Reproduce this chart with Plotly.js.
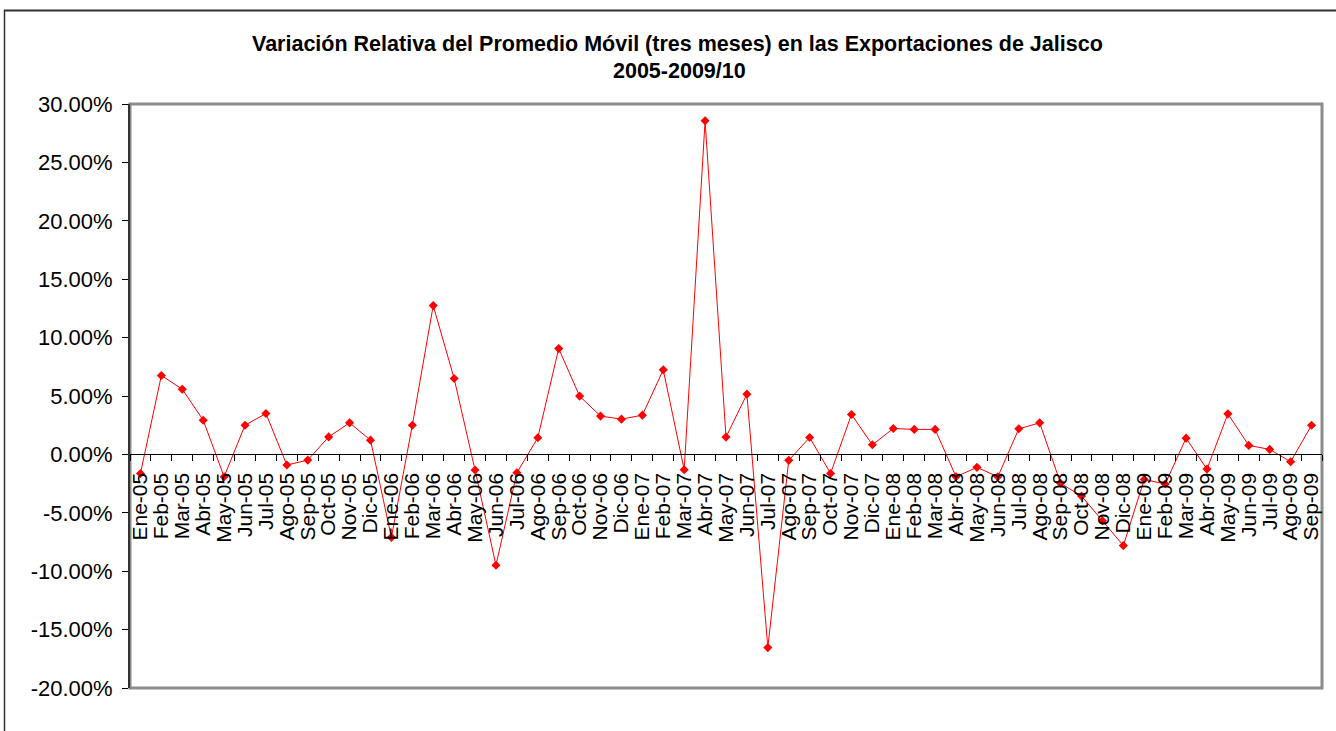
<!DOCTYPE html>
<html>
<head>
<meta charset="utf-8">
<script src="https://cdn.plot.ly/plotly-3.0.1.min.js"></script>
<style>
  html, body { margin: 0; padding: 0; background: #ffffff; }
  #chart { width: 1336px; height: 731px; }
</style>
</head>
<body>
<div id="chart"></div>
<script>
// Months (categories)
const months = [
  "Ene-05","Feb-05","Mar-05","Abr-05","May-05","Jun-05","Jul-05","Ago-05","Sep-05","Oct-05","Nov-05","Dic-05",
  "Ene-06","Feb-06","Mar-06","Abr-06","May-06","Jun-06","Jul-06","Ago-06","Sep-06","Oct-06","Nov-06","Dic-06",
  "Ene-07","Feb-07","Mar-07","Abr-07","May-07","Jun-07","Jul-07","Ago-07","Sep-07","Oct-07","Nov-07","Dic-07",
  "Ene-08","Feb-08","Mar-08","Abr-08","May-08","Jun-08","Jul-08","Ago-08","Sep-08","Oct-08","Nov-08","Dic-08",
  "Ene-09","Feb-09","Mar-09","Abr-09","May-09","Jun-09","Jul-09","Ago-09","Sep-09"
];

// Relative variation of 3-month moving average (fraction)
const variation = [
  -0.0163, 0.0676, 0.0558, 0.0293, -0.0191, 0.0250, 0.0350, -0.0091, -0.0049, 0.0150, 0.0270, 0.0122,
  -0.0710, 0.0250, 0.1274, 0.0650, -0.0134, -0.0949, -0.0157, 0.0142, 0.0906, 0.0499, 0.0328, 0.0302,
  0.0336, 0.0724, -0.0131, 0.2856, 0.0148, 0.0516, -0.1654, -0.0051, 0.0145, -0.0163, 0.0342, 0.0082,
  0.0222, 0.0214, 0.0214, -0.0191, -0.0111, -0.0191, 0.0219, 0.0270, -0.0248, -0.0357, -0.0568, -0.0781,
  -0.0214, -0.0254, 0.0139, -0.0126, 0.0347, 0.0077, 0.0043, -0.0063, 0.0250
];

// Y-axis ticks
const yTickVals = [-0.20, -0.15, -0.10, -0.05, 0, 0.05, 0.10, 0.15, 0.20, 0.25, 0.30];
const yTickText = ["-20.00%","-15.00%","-10.00%","-5.00%","0.00%","5.00%","10.00%","15.00%","20.00%","25.00%","30.00%"];

const titleLine1 = "Variación Relativa del Promedio Móvil (tres meses) en las Exportaciones de Jalisco";
const titleLine2 = "2005-2009/10";

const FONT = "Arial, 'Liberation Sans', sans-serif";

// Plot area in pixels
const L = 130, R = 14, T = 104, B = 43;
const W = 1336, H = 731;
const pw = W - L - R, ph = H - T - B;
const px = v => (v - L) / pw;          // pixel x -> paper
const py = v => (H - B - v) / ph;      // pixel y -> paper

const trace = {
  type: "scatter",
  mode: "lines+markers",
  x: months,
  y: variation,
  line: { color: "#ff0000", width: 1 },
  marker: { symbol: "diamond", size: 7, color: "#ff0000" },
  hoverinfo: "x+y"
};

const layout = {
  width: W,
  height: H,
  margin: { l: L, r: R, t: T, b: B, pad: 0 },
  paper_bgcolor: "#ffffff",
  plot_bgcolor: "#ffffff",
  showlegend: false,
  font: { family: FONT, color: "#000000", size: 21 },
  xaxis: {
    type: "category",
    range: [-0.5, months.length - 0.5],
    anchor: "free",
    position: 0.4,
    showline: true,
    linecolor: "#000000",
    linewidth: 1,
    showgrid: false,
    zeroline: false,
    tickmode: "array",
    tickvals: months,
    ticktext: months,
    ticks: "outside",
    tickson: "boundaries",
    ticklen: 6,
    tickcolor: "#000000",
    tickwidth: 1,
    tickangle: -90,
    ticklabelstandoff: 9,
    tickfont: { family: FONT, size: 21, color: "#000000" },
    fixedrange: true
  },
  yaxis: {
    range: [-0.20, 0.30],
    tickmode: "array",
    tickvals: yTickVals,
    ticktext: yTickText,
    showline: true,
    linecolor: "#333333",
    linewidth: 2,
    showgrid: false,
    zeroline: false,
    ticks: "outside",
    ticklen: 6,
    tickcolor: "#000000",
    tickwidth: 1,
    ticklabelstandoff: 5,
    tickfont: { family: FONT, size: 22, color: "#000000" },
    fixedrange: true
  },
  annotations: [
    { xref: "paper", yref: "paper", x: px(677), y: py(44), xanchor: "center", yanchor: "middle",
      showarrow: false, text: "<b>" + titleLine1 + "</b>", font: { family: FONT, size: 21.5, color: "#000000" } },
    { xref: "paper", yref: "paper", x: px(679), y: py(71), xanchor: "center", yanchor: "middle",
      showarrow: false, text: "<b>" + titleLine2 + "</b>", font: { family: FONT, size: 21.5, color: "#000000" } }
  ],
  shapes: [
    // plot area border
    { type: "rect", xref: "paper", yref: "paper", x0: 0, x1: 1, y0: 0, y1: 1,
      line: { color: "#8c8c8c", width: 3 }, layer: "below" },
    // chart area outer border (left & top)
    { type: "line", xref: "paper", yref: "paper", x0: px(4.5), x1: px(4.5), y0: py(10), y1: py(740),
      line: { color: "#303030", width: 1.5 } },
    { type: "line", xref: "paper", yref: "paper", x0: px(4), x1: px(1345), y0: py(10.5), y1: py(10.5),
      line: { color: "#303030", width: 2 } }
  ]
};

Plotly.newPlot("chart", [trace], layout, { displayModeBar: false, staticPlot: true });
</script>
</body>
</html>
